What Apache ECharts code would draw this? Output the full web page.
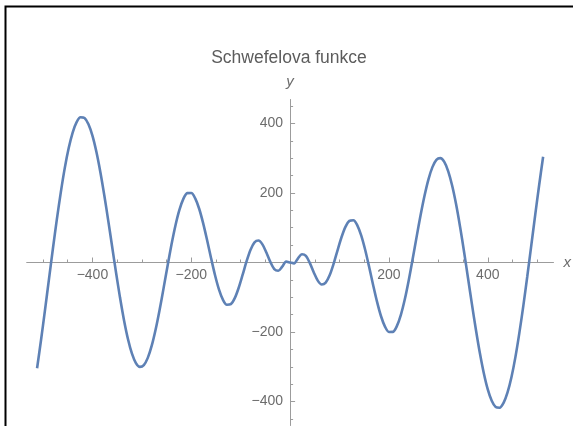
<!DOCTYPE html>
<html>
<head>
<meta charset="utf-8">
<script src="https://cdn.jsdelivr.net/npm/echarts@6/dist/echarts.min.js"></script>
<style>
html,body{margin:0;padding:0;background:#fff;}
#chart{width:573px;height:426px;}
</style>
</head>
<body>
<div id="chart"></div>
<script>
const chartTitle = 'Schwefelova funkce';
const xValues = [
 -512,-504,-496,-488,-480,-472,-464,-456,-448,-440,-432,-424,-416,-408,-400,-392,
 -384,-376,-368,-360,-352,-344,-336,-328,-320,-312,-304,-296,-288,-280,-272,-264,
 -256,-248,-240,-232,-224,-216,-208,-200,-192,-184,-176,-168,-160,-152,-144,-136,
 -128,-120,-112,-104,-96,-88,-80,-72,-64,-56,-48,-40,-32,-24,-16,-8,
 0,
 8,16,24,32,40,48,56,64,72,80,88,96,104,112,120,128,
 136,144,152,160,168,176,184,192,200,208,216,224,232,240,248,256,
 264,272,280,288,296,304,312,320,328,336,344,352,360,368,376,384,
 392,400,408,416,424,432,440,448,456,464,472,480,488,496,504,512
];
const yValues = [
 -304.4,-223.1,-137.1,-48.5,39.5,123.9,201.9,271.6,329.3,373.9,403.7,417.8,415.9,398.0,365.2,318.7,
 260.7,193.7,120.5,44.6,-30.9,-102.4,-166.8,-220.8,-262.4,-289.3,-300.3,-295.2,-274.4,-239.4,-192.1,-135.8,
 -73.7,-9.9,51.5,106.5,151.2,183.1,199.6,200.0,184.5,154.7,113.4,64.7,13.2,-35.9,-77.3,-106.9,
 -121.6,-119.9,-102.6,-72.6,-35.0,3.9,37.0,58.1,63.3,52.2,28.9,1.7,-18.8,-23.6,-12.1,2.5,
 0,
 -2.5,12.1,23.6,18.8,-1.7,-28.9,-52.2,-63.3,-58.1,-37.0,-3.9,35.0,72.6,102.6,119.9,121.6,
 106.9,77.3,35.9,-13.2,-64.7,-113.4,-154.7,-184.5,-200.0,-199.6,-183.1,-151.2,-106.5,-51.5,9.9,73.7,
 135.8,192.1,239.4,274.4,295.2,300.3,289.3,262.4,220.8,166.8,102.4,30.9,-44.6,-120.5,-193.7,-260.7,
 -318.7,-365.2,-398.0,-415.9,-417.8,-403.7,-373.9,-329.3,-271.6,-201.9,-123.9,-39.5,48.5,137.1,223.1,304.4
];
const xMajorTicks = [-400,-200,200,400];
const xMinorTicks = [-500,-450,-350,-300,-250,-150,-100,-50,50,100,150,250,300,350,450,500];
const yMajorTicks = [-400,-200,200,400];
const yMinorTicks = [-450,-350,-300,-250,-150,-100,-50,50,100,150,250,300,350,450];
const xRange = [-533, 533];
const yRange = [-469, 469];

// layout (pixels)
const W = 573, H = 426;
const G = {left: 26.7, right: 19.5, top: 99.5, bottom: 0.5};
const gw = W - G.left - G.right, gh = H - G.top - G.bottom;
// place each axis where the other axis' value is zero
const xAxisOffset = -gh * (0 - yRange[0]) / (yRange[1] - yRange[0]);
const yAxisOffset = -gw * (0 - xRange[0]) / (xRange[1] - xRange[0]);

const axisColor = '#9c9c9c';
const labelColor = '#6c6c6c';
const font = 'Liberation Sans, Arial, sans-serif';
const fmt = v => (v < 0 ? '\u2212' + Math.abs(v) : String(v));

const chart = echarts.init(document.getElementById('chart'), null, {renderer: 'canvas'});
const baseAxis = (range) => ({
  type: 'value', min: range[0], max: range[1], splitLine: {show: false}
});
chart.setOption({
  animation: false,
  backgroundColor: '#fff',
  title: {
    text: chartTitle, left: 289, top: 49, padding: 0, textAlign: 'center',
    textStyle: {fontFamily: font, fontSize: 17.5, fontWeight: 'normal', color: '#5c5c5c'}
  },
  graphic: [{
    type: 'polyline', silent: true,
    shape: {points: [[5.5, 900], [5.5, 6.5], [900, 6.5]]},
    style: {fill: null, stroke: '#000', lineWidth: 2}
  }],
  grid: {left: G.left, right: G.right, top: G.top, bottom: G.bottom, containLabel: false, outerBoundsMode: 'none'},
  xAxis: [
    Object.assign(baseAxis(xRange), {
      position: 'bottom', offset: xAxisOffset,
      name: 'x', nameLocation: 'end', nameGap: 10,
      nameTextStyle: {fontStyle: 'italic', fontSize: 15, color: labelColor, fontFamily: font},
      axisLine: {show: true, onZero: false, lineStyle: {color: axisColor, width: 1}},
      axisTick: {show: true, inside: true, length: 5, customValues: xMajorTicks, lineStyle: {color: axisColor}},
      axisLabel: {show: true, customValues: xMajorTicks, formatter: fmt, margin: 6, fontSize: 14,
        color: labelColor, fontFamily: font}
    }),
    Object.assign(baseAxis(xRange), {
      position: 'bottom', offset: xAxisOffset,
      axisLine: {show: false, onZero: false},
      axisTick: {show: true, inside: true, length: 3, customValues: xMinorTicks, lineStyle: {color: axisColor}},
      axisLabel: {show: false}
    })
  ],
  yAxis: [
    Object.assign(baseAxis(yRange), {
      position: 'left', offset: yAxisOffset,
      name: 'y', nameLocation: 'end', nameGap: 10,
      nameTextStyle: {fontStyle: 'italic', fontSize: 15, color: labelColor, fontFamily: font},
      axisLine: {show: true, onZero: false, lineStyle: {color: axisColor, width: 1}},
      axisTick: {show: true, inside: true, length: 5, customValues: yMajorTicks, lineStyle: {color: axisColor}},
      axisLabel: {show: true, customValues: yMajorTicks, formatter: fmt, margin: 7, fontSize: 14,
        color: labelColor, fontFamily: font}
    }),
    Object.assign(baseAxis(yRange), {
      position: 'left', offset: yAxisOffset,
      axisLine: {show: false, onZero: false},
      axisTick: {show: true, inside: true, length: 3, customValues: yMinorTicks, lineStyle: {color: axisColor}},
      axisLabel: {show: false}
    })
  ],
  series: [{
    type: 'line',
    xAxisIndex: 0, yAxisIndex: 0,
    data: xValues.map((x, i) => [x, yValues[i]]),
    showSymbol: false,
    smooth: 0.3,
    clip: false,
    lineStyle: {color: 'rgb(94,129,181)', width: 2.6}
  }]
});
</script>
</body>
</html>
